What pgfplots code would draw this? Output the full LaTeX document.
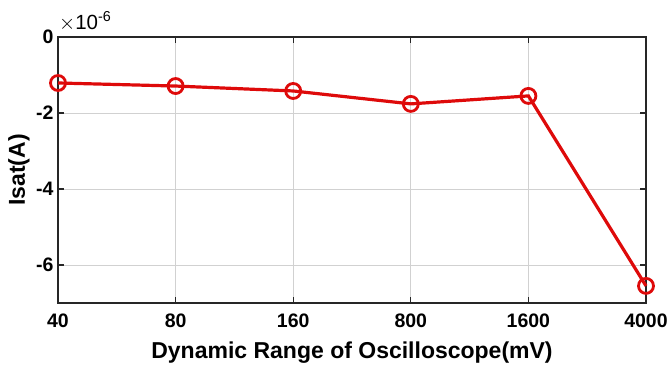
\documentclass[border=0pt]{standalone}
\usepackage{pgfplots}
\pgfplotsset{compat=1.18}
\usepackage{fontspec}
\setmainfont{Liberation Sans}
\definecolor{mred}{rgb}{0.87,0.04,0.04}
\begin{document}
\begin{tikzpicture}
\useasboundingbox (-58pt,-62pt) rectangle (614pt,303pt);
\begin{axis}[
  at={(0pt,0pt)}, anchor=south west,
  scale only axis,
  width=588pt, height=266pt,
  xmin=0, xmax=5, ymin=-7, ymax=0,
  xtick={0,1,2,3,4,5},
  xticklabels={40,80,160,800,1600,4000},
  ytick={-6,-4,-2,0},
  tick pos=both,
  /pgf/number format/assume math mode=true,
  tick label style={font=\fontsize{19.5}{23}\selectfont\bfseries},
  xticklabel style={yshift=-7pt},
  yticklabel style={xshift=-1pt},
  label style={font=\fontsize{23}{27}\selectfont\bfseries},
  xlabel={Dynamic Range of Oscilloscope(mV)},
  ylabel={Isat(A)},
  xlabel style={at={(axis description cs:0.5,0)}, anchor=center, yshift=-50pt},
  ylabel style={at={(axis description cs:0,0.5)}, anchor=center, yshift=39pt},
  grid=major,
  major grid style={black!18, line width=1pt},
  axis line style={line width=1.4pt, black!85},
  tick style={line width=1.2pt, black!85},
  tick align=inside,
  major tick length=6pt,
  clip=false,
]
\addplot[color=mred, line width=3.2pt, mark=o, mark size=7.5pt, mark options={line width=2.8pt}]
  coordinates {(0,-1.21) (1,-1.29) (2,-1.42) (3,-1.76) (4,-1.55) (5,-6.55)};
\node[anchor=base west, font=\fontsize{20.5}{24}\selectfont, inner sep=0pt] at (rel axis cs:0,1) [xshift=1pt, yshift=8pt] {$\times$10\textsuperscript{-6}};
\end{axis}
\end{tikzpicture}
\end{document}
